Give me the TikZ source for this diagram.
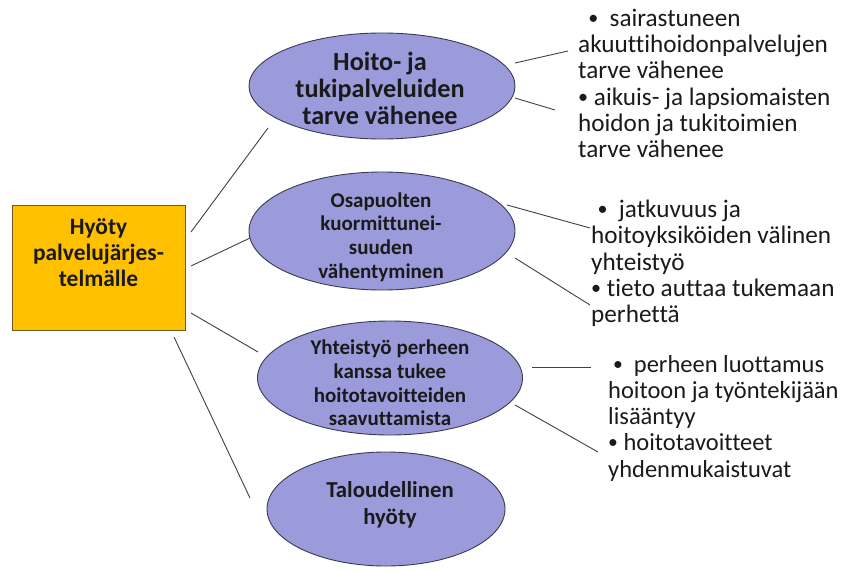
\documentclass[tikz,border=0pt]{standalone}
\usepackage{fontspec}
\setmainfont{Carlito}[Ligatures={NoCommon}]
\usetikzlibrary{shapes.geometric}
\definecolor{boxorange}{HTML}{FFC000}
\definecolor{boxedge}{HTML}{6B5A2E}
\definecolor{ellfill}{HTML}{9B9BDC}
\definecolor{elledge}{HTML}{3A3A50}
\definecolor{linegray}{HTML}{404040}
\definecolor{txt}{HTML}{1A1A1A}
\newcommand{\bul}{\raisebox{0.08em}{\scalebox{0.8}{•}}}
\begin{document}
\begin{tikzpicture}[x=1pt,y=-1pt,
  ell/.style={ellipse, draw=elledge, fill=ellfill, line width=0.9pt, inner sep=0pt},
  hubbox/.style={draw=boxedge, fill=boxorange, line width=1pt, inner sep=0pt},
  conn/.style={draw=linegray, line width=0.9pt},
  bigbold/.style={font=\fontsize{22.8}{27.5}\selectfont\bfseries, align=center, text=txt, inner sep=0pt},
  smallbold/.style={font=\fontsize{21}{23.8}\selectfont\bfseries, align=center, text=txt, inner sep=0pt},
  bullets/.style={font=\fontsize{25.2}{26.2}\selectfont, align=left, text=txt, inner sep=0pt, anchor=north west}]
\useasboundingbox (0,0) rectangle (842,572);

% hub box
\node[hubbox, minimum width=173pt, minimum height=125pt] (hub) at (98.5,267.5) {};
\node[font=\fontsize{23.4}{26}\selectfont\bfseries, align=center, text=txt, inner sep=0pt] (hubt) at (98.5,253) {Hyöty\\palvelujärjes-\\telmälle};

% ellipses
\node[ell, minimum width=266pt, minimum height=106pt] (e1) at (382,86) {};
\node[bigbold, font=\fontsize{26.2}{27}\selectfont\bfseries] (t1) at (380,88) {Hoito- ja\\tukipalveluiden\\tarve vähenee};

\node[ell, minimum width=266pt, minimum height=118pt] (e2) at (382,231) {};
\node[smallbold] (t2) at (381,237) {Osapuolten\\kuormittunei-\\suuden\\vähentyminen};

\node[ell, minimum width=265pt, minimum height=114pt] (e3) at (390,378) {};
\node[smallbold] (t3) at (390,383) {Yhteistyö perheen\\kanssa tukee\\hoitotavoitteiden\\saavuttamista};

\node[ell, minimum width=238pt, minimum height=114pt] (e4) at (386,509) {};
\node[bigbold] (t4) at (390,505) {Taloudellinen\\hyöty};

% bullet text blocks
\node[bullets] (b1) at (578,9) {\hspace{0.4em}\bul\hspace{0.45em}sairastuneen\\akuuttihoidonpalvelujen\\tarve vähenee\\\bul{} aikuis- ja lapsiomaisten\\hoidon ja tukitoimien\\tarve vähenee};
\node[bullets] (b2) at (591,200) {\hspace{0.25em}\bul\hspace{0.45em}jatkuvuus ja\\hoitoyksiköiden välinen\\yhteistyö\\\bul{} tieto auttaa tukemaan\\perhettä};
\node[bullets, font=\fontsize{24.5}{26.2}\selectfont] (b3) at (608,355) {\hspace{0.2em}\bul\hspace{0.45em}perheen luottamus\\hoitoon ja työntekijään\\lisääntyy\\\bul{} hoitotavoitteet\\yhdenmukaistuvat};

% connector end points
\coordinate (h1) at (191,232);
\coordinate (h2) at (191,266);
\coordinate (h3) at (191,313);
\coordinate (h4) at (174,337);
\coordinate (e1in) at (268,128);
\coordinate (e2in) at (250,238);
\coordinate (e3in) at (258,352);
\coordinate (e4in) at (250,498);

\coordinate (e1a) at (515,63);
\coordinate (e1b) at (515,98);
\coordinate (e2a) at (507,205);
\coordinate (e2b) at (515,258);
\coordinate (e3a) at (532,367);
\coordinate (e3b) at (515,405);

\coordinate (b1a) at (568,51);
\coordinate (b1b) at (555,110);
\coordinate (b2a) at (590,228);
\coordinate (b2b) at (590,305);
\coordinate (b3a) at (591,367);
\coordinate (b3b) at (598,452);

\draw[conn] (h1) -- (e1in);
\draw[conn] (h2) -- (e2in);
\draw[conn] (h3) -- (e3in);
\draw[conn] (h4) -- (e4in);

\draw[conn] (e1a) -- (b1a);
\draw[conn] (e1b) -- (b1b);
\draw[conn] (e2a) -- (b2a);
\draw[conn] (e2b) -- (b2b);
\draw[conn] (e3a) -- (b3a);
\draw[conn] (e3b) -- (b3b);
\end{tikzpicture}
\end{document}
